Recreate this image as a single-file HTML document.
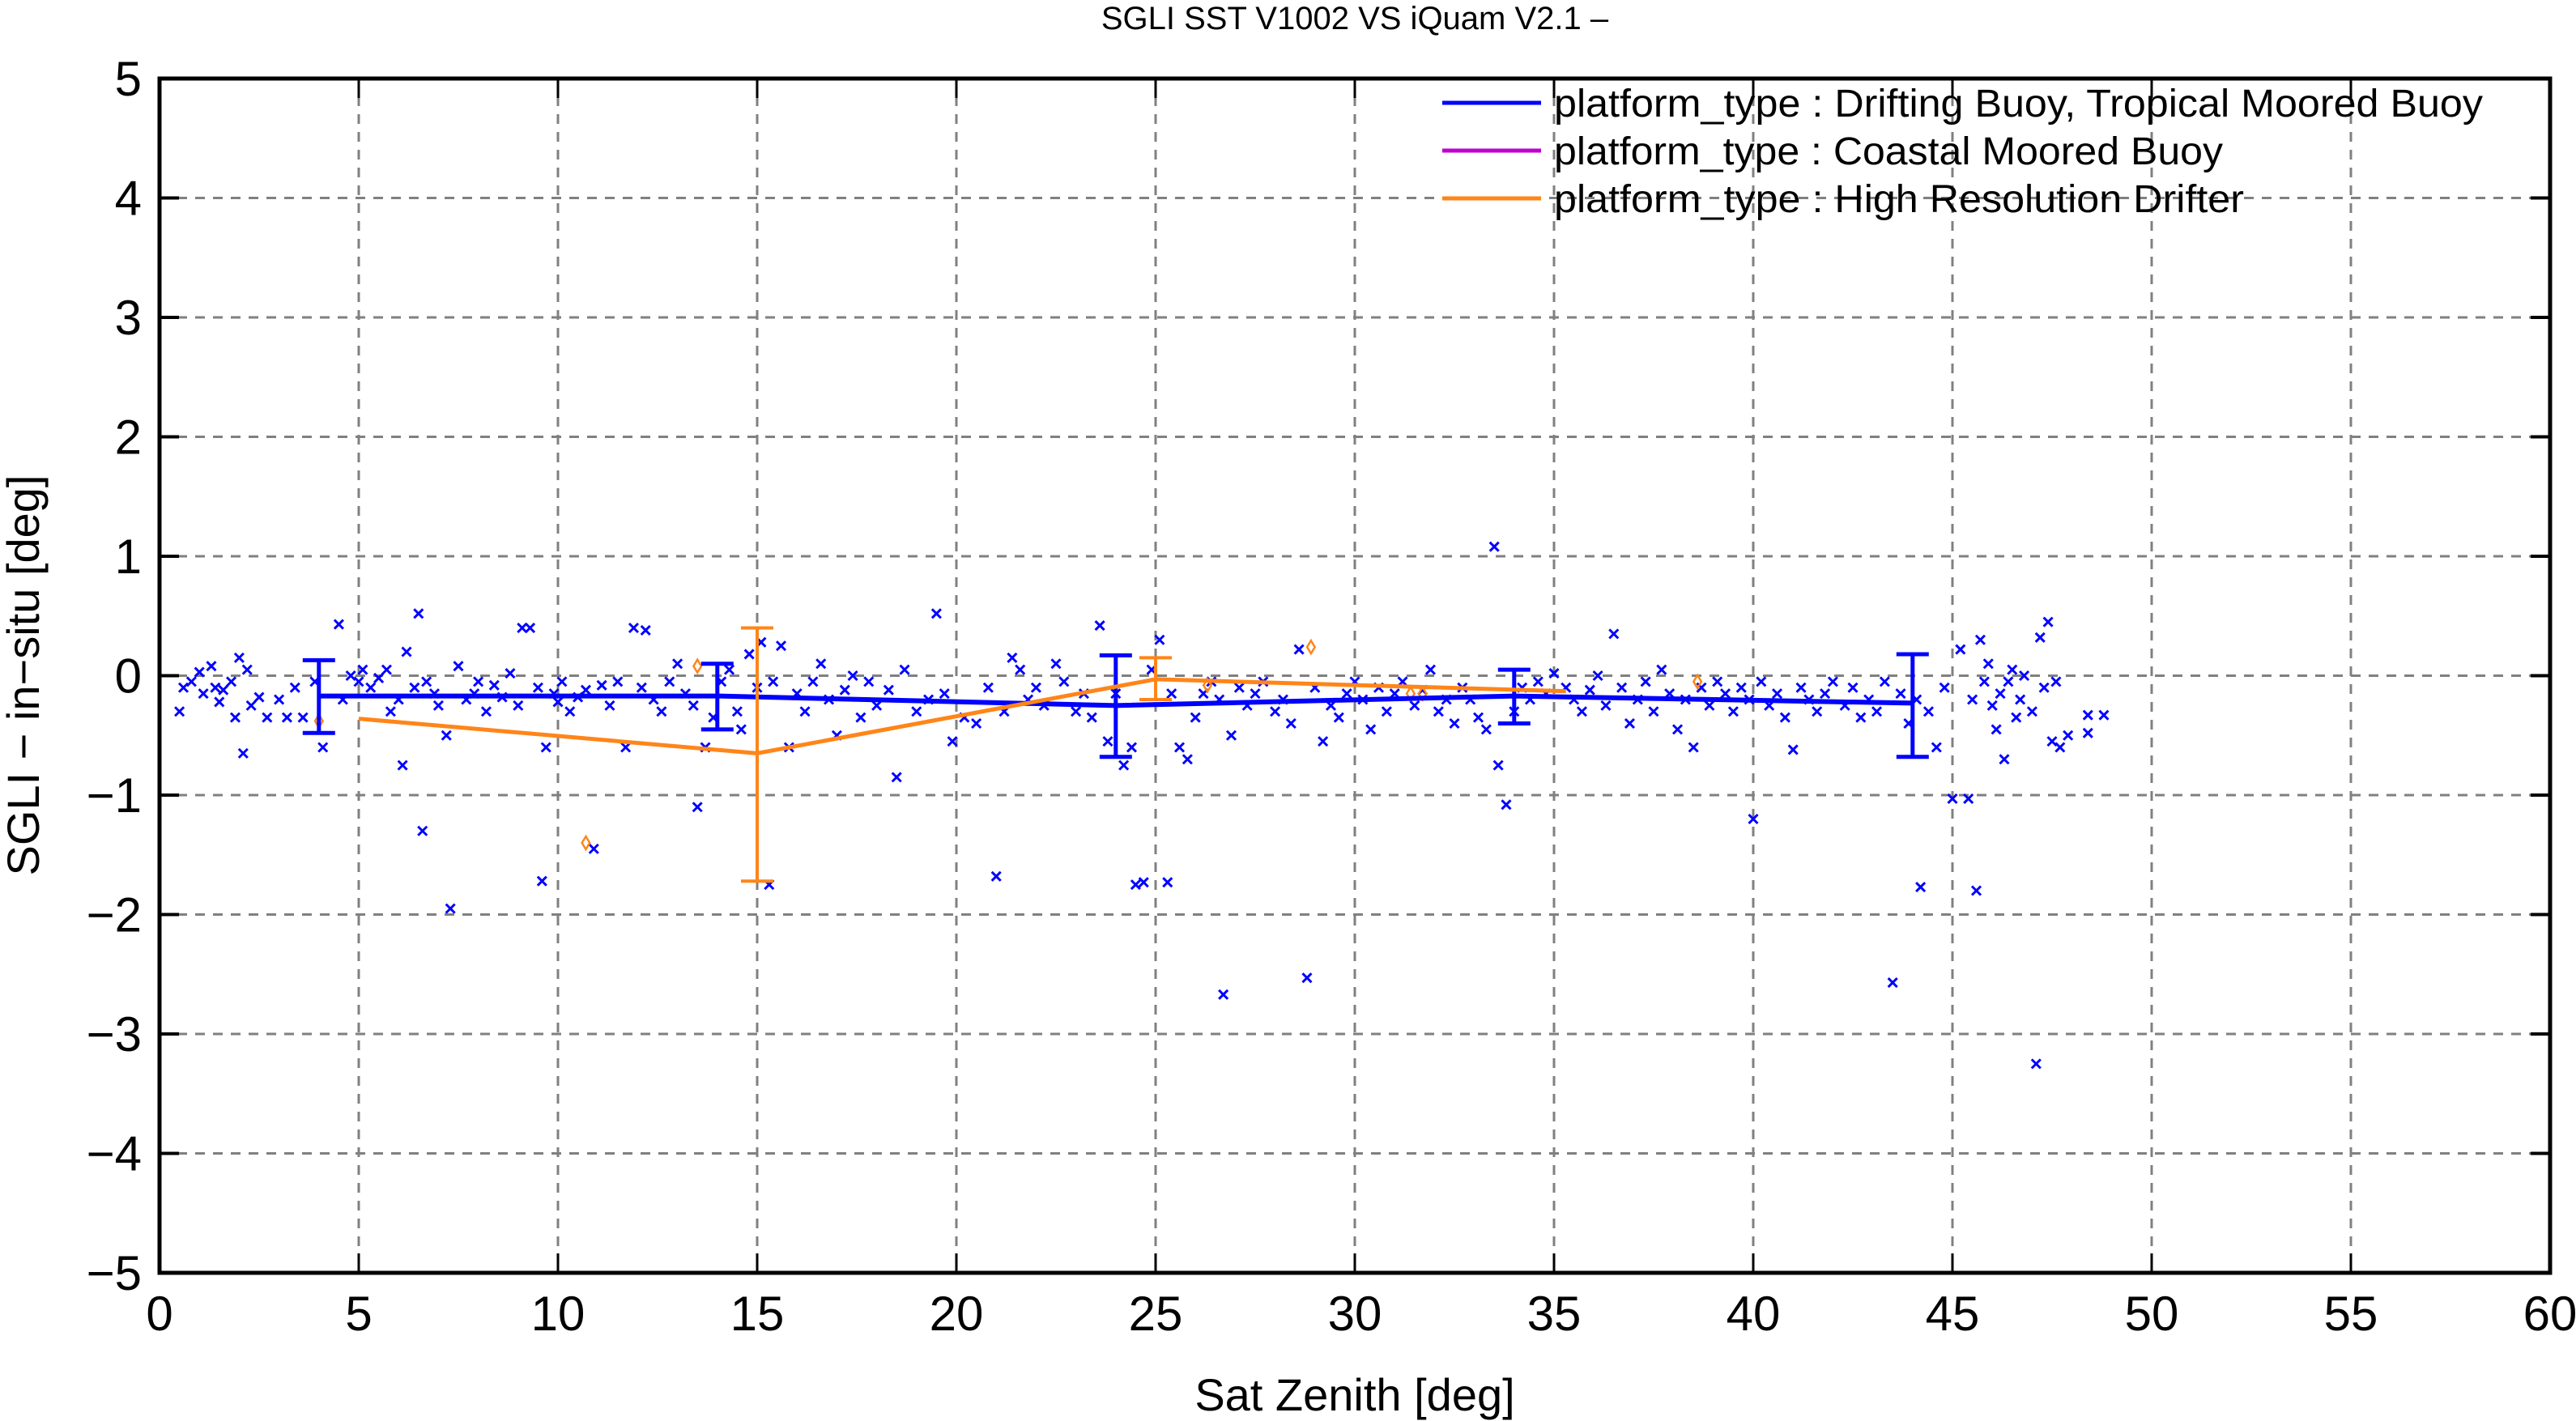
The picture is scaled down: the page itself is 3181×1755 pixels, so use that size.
<!DOCTYPE html>
<html><head><meta charset="utf-8"><style>
html,body{margin:0;padding:0;background:#fff;}
svg{display:block;font-family:"Liberation Sans",sans-serif;}
</style></head><body>
<svg id="chart" width="3181" height="1755" viewBox="0 0 3181 1755" xmlns="http://www.w3.org/2000/svg">
<rect x="0" y="0" width="3181" height="1755" fill="#fff"/>
<g id="grid"></g>
<g id="ticks"></g>
<g id="scatter"></g>
<g id="lines"></g>
<rect x="197" y="97" width="2952" height="1475" fill="none" stroke="#000" stroke-width="5"/>
<text x="1673" y="36" font-size="40" text-anchor="middle">SGLI SST V1002 VS iQuam V2.1  –</text>
<text x="1673" y="1742" font-size="56" text-anchor="middle">Sat Zenith [deg]</text>
<text x="0" y="0" font-size="56" text-anchor="middle" transform="translate(48,834) rotate(-90)">SGLI − in−situ [deg]</text>
<g>
<line x1="1781" y1="127" x2="1903" y2="127" stroke="#0000ff" stroke-width="5"/>
<text x="1919" y="144" font-size="48" textLength="1147" lengthAdjust="spacingAndGlyphs">platform_type : Drifting Buoy, Tropical Moored Buoy</text>
<line x1="1781" y1="186" x2="1903" y2="186" stroke="#c000d0" stroke-width="5"/>
<text x="1919" y="203" font-size="48" textLength="826" lengthAdjust="spacingAndGlyphs">platform_type : Coastal Moored Buoy</text>
<line x1="1781" y1="245" x2="1903" y2="245" stroke="#ff8519" stroke-width="5"/>
<text x="1919" y="262" font-size="48" textLength="852" lengthAdjust="spacingAndGlyphs">platform_type : High Resolution Drifter</text>
</g>
</svg>
<script>
const xTicks = [0,5,10,15,20,25,30,35,40,45,50,55,60];
const yTicks = [-5,-4,-3,-2,-1,0,1,2,3,4,5];
const blueMeanX = [4,14,24,34,44];
const blueMeanY = [-0.17,-0.17,-0.25,-0.17,-0.23];
const blueErrHi = [0.13,0.1,0.17,0.05,0.18];
const blueErrLo = [-0.48,-0.45,-0.68,-0.4,-0.68];
const orangeMeanX = [5,15,25,35.3];
const orangeMeanY = [-0.36,-0.65,-0.03,-0.13];
const orangeErrX = [15,25];
const orangeErrHi = [0.4,0.15];
const orangeErrLo = [-1.72,-0.2];
const orangeDiamonds = [[4,-0.38],[10.7,-1.4],[13.5,0.08],[28.9,0.24],[26.3,-0.08],[31.4,-0.15],[31.7,-0.15],[38.6,-0.05]];
const scatterPoints = [
[0.5,-0.3],[0.6,-0.1],[0.8,-0.05],[1.0,0.03],[1.1,-0.15],[1.3,0.08],[1.4,-0.1],[1.5,-0.22],[1.6,-0.12],[1.8,-0.05],[1.9,-0.35],[2.0,0.15],[2.1,-0.65],[2.2,0.05],[2.3,-0.25],[2.5,-0.18],[2.7,-0.35],[3.0,-0.2],[3.2,-0.35],[3.4,-0.1],[3.6,-0.35],[3.9,-0.05],[4.1,-0.6],[4.5,0.43],[4.6,-0.2],[4.8,0.0],[5.0,-0.05],[5.1,0.05],
[5.3,-0.1],[5.5,-0.02],[5.7,0.05],[5.8,-0.3],[6.0,-0.2],[6.1,-0.75],[6.2,0.2],[6.4,-0.1],[6.5,0.52],[6.6,-1.3],[6.7,-0.05],[6.9,-0.15],[7.0,-0.25],[7.2,-0.5],[7.3,-1.95],[7.5,0.08],[7.7,-0.2],[7.9,-0.15],[8.0,-0.05],[8.2,-0.3],[8.4,-0.08],[8.6,-0.18],[8.8,0.02],[9.0,-0.25],[9.1,0.4],[9.3,0.4],[9.5,-0.1],[9.6,-1.72],[9.7,-0.6],[9.9,-0.15],[10.0,-0.22],[10.1,-0.05],
[10.3,-0.3],[10.5,-0.18],[10.7,-0.12],[10.9,-1.45],[11.1,-0.08],[11.3,-0.25],[11.5,-0.05],[11.7,-0.6],[11.9,0.4],[12.1,-0.1],[12.2,0.38],[12.4,-0.2],[12.6,-0.3],[12.8,-0.05],[13.0,0.1],[13.2,-0.15],[13.4,-0.25],[13.5,-1.1],[13.7,-0.6],[13.9,-0.35],[14.1,-0.05],[14.3,0.05],[14.5,-0.3],[14.6,-0.45],[14.8,0.18],[15.0,-0.1],[15.1,0.28],
[15.3,-1.75],[15.4,-0.05],[15.6,0.25],[15.8,-0.6],[16.0,-0.15],[16.2,-0.3],[16.4,-0.05],[16.6,0.1],[16.8,-0.2],[17.0,-0.5],[17.2,-0.12],[17.4,0.0],[17.6,-0.35],[17.8,-0.05],[18.0,-0.25],[18.3,-0.12],[18.5,-0.85],[18.7,0.05],[19.0,-0.3],[19.3,-0.2],[19.5,0.52],[19.7,-0.15],[19.9,-0.55],
[20.2,-0.35],[20.5,-0.4],[20.8,-0.1],[21.0,-1.68],[21.2,-0.3],[21.4,0.15],[21.6,0.05],[21.8,-0.2],[22.0,-0.1],[22.2,-0.25],[22.5,0.1],[22.7,-0.05],[23.0,-0.3],[23.2,-0.15],[23.4,-0.35],[23.6,0.42],[23.8,-0.55],[24.0,-0.15],[24.2,-0.75],[24.4,-0.6],[24.5,-1.75],[24.7,-1.73],[24.9,0.05],[25.1,0.3],[25.3,-1.73],[25.4,-0.15],
[25.6,-0.6],[25.8,-0.7],[26.0,-0.35],[26.2,-0.15],[26.4,-0.05],[26.6,-0.2],[26.7,-2.67],[26.9,-0.5],[27.1,-0.1],[27.3,-0.25],[27.5,-0.15],[27.7,-0.05],[28.0,-0.3],[28.2,-0.2],[28.4,-0.4],[28.6,0.22],[28.8,-2.53],[29.0,-0.1],[29.2,-0.55],[29.4,-0.25],[29.6,-0.35],[29.8,-0.15],[30.0,-0.05],
[30.2,-0.2],[30.4,-0.45],[30.6,-0.1],[30.8,-0.3],[31.0,-0.15],[31.2,-0.05],[31.5,-0.25],[31.7,-0.12],[31.9,0.05],[32.1,-0.3],[32.3,-0.2],[32.5,-0.4],[32.7,-0.1],[32.9,-0.2],[33.1,-0.35],[33.3,-0.45],[33.5,1.08],[33.6,-0.75],[33.8,-1.08],[34.0,-0.3],[34.2,-0.1],[34.4,-0.2],[34.6,-0.05],[34.8,-0.15],[35.0,0.02],
[35.3,-0.1],[35.5,-0.2],[35.7,-0.3],[35.9,-0.12],[36.1,0.0],[36.3,-0.25],[36.5,0.35],[36.7,-0.1],[36.9,-0.4],[37.1,-0.2],[37.3,-0.05],[37.5,-0.3],[37.7,0.05],[37.9,-0.15],[38.1,-0.45],[38.3,-0.2],[38.5,-0.6],[38.7,-0.1],[38.9,-0.25],[39.1,-0.05],[39.3,-0.15],[39.5,-0.3],[39.7,-0.1],[39.9,-0.2],[40.0,-1.2],
[40.2,-0.05],[40.4,-0.25],[40.6,-0.15],[40.8,-0.35],[41.0,-0.62],[41.2,-0.1],[41.4,-0.2],[41.6,-0.3],[41.8,-0.15],[42.0,-0.05],[42.3,-0.25],[42.5,-0.1],[42.7,-0.35],[42.9,-0.2],[43.1,-0.3],[43.3,-0.05],[43.5,-2.57],[43.7,-0.15],[43.9,-0.4],[44.1,-0.2],[44.2,-1.77],[44.4,-0.3],[44.6,-0.6],[44.8,-0.1],[45.0,-1.03],[45.2,0.22],[45.4,-1.03],
[45.5,-0.2],[45.6,-1.8],[45.7,0.3],[45.8,-0.05],[45.9,0.1],[46.0,-0.25],[46.1,-0.45],[46.2,-0.15],[46.3,-0.7],[46.4,-0.05],[46.5,0.05],[46.6,-0.35],[46.7,-0.2],[46.8,0.0],[47.0,-0.3],[47.1,-3.25],[47.2,0.32],[47.3,-0.1],[47.4,0.45],[47.5,-0.55],[47.6,-0.05],[47.7,-0.6],[47.9,-0.5],[48.4,-0.33],[48.4,-0.48],[48.8,-0.33]
];

const NS = "http://www.w3.org/2000/svg";
const L = 197, R = 3149, T = 97, B = 1572;
const xMin = 0, xMax = 60, yMin = -5, yMax = 5;
function sx(v){ return L + (v - xMin) / (xMax - xMin) * (R - L); }
function sy(v){ return B - (v - yMin) / (yMax - yMin) * (B - T); }
function mk(tag, attrs, parent){
  const e = document.createElementNS(NS, tag);
  for (const k in attrs) e.setAttribute(k, attrs[k]);
  parent.appendChild(e);
  return e;
}
const grid = document.getElementById('grid');
const ticks = document.getElementById('ticks');
xTicks.forEach(function(v){
  const x = sx(v);
  if (v > xMin && v < xMax) {
    const g = mk('line', {x1:x, y1:T, x2:x, y2:B, stroke:'#808080', 'stroke-width':3, 'stroke-dasharray':'12 10'}, grid);
    
    
    const t1 = mk('line', {x1:x, y1:B, x2:x, y2:B-24, stroke:'#000', 'stroke-width':3}, ticks);
    
    
    const t2 = mk('line', {x1:x, y1:T, x2:x, y2:T+24, stroke:'#000', 'stroke-width':3}, ticks);
    
    
  }
  const lab = mk('text', {x:x, y:1643, 'font-size':60, 'text-anchor':'middle'}, ticks);
  
  
  lab.textContent = String(v);
});
yTicks.forEach(function(v){
  const y = sy(v);
  if (v > yMin && v < yMax) {
    const g = mk('line', {x1:L, y1:y, x2:R, y2:y, stroke:'#808080', 'stroke-width':3, 'stroke-dasharray':'12 10'}, grid);
    
    
    const t1 = mk('line', {x1:L, y1:y, x2:L+24, y2:y, stroke:'#000', 'stroke-width':4}, ticks);
    
    
    const t2 = mk('line', {x1:R, y1:y, x2:R-24, y2:y, stroke:'#000', 'stroke-width':4}, ticks);
    
    
  }
  const lab = mk('text', {x:175, y:y+21, 'font-size':60, 'text-anchor':'end'}, ticks);
  
  
  lab.textContent = v < 0 ? '−' + Math.abs(v) : String(v);
});
const sc = document.getElementById('scatter');
scatterPoints.forEach(function(p){
  const x = sx(p[0]), y = sy(p[1]), s = 5.5;
  const m = mk('path', {d:'M'+(x-s)+' '+(y-s)+'L'+(x+s)+' '+(y+s)+'M'+(x-s)+' '+(y+s)+'L'+(x+s)+' '+(y-s), stroke:'#0000ff', 'stroke-width':3, fill:'none'}, sc);
  
  
});
orangeDiamonds.forEach(function(p){
  const x = sx(p[0]), y = sy(p[1]), s = 8;
  const m = mk('path', {d:'M'+x+' '+(y-s)+'L'+(x+s*0.6)+' '+y+'L'+x+' '+(y+s)+'L'+(x-s*0.6)+' '+y+'Z', stroke:'#ff8519', 'stroke-width':2.5, fill:'none'}, sc);
  
  
});
const lines = document.getElementById('lines');
const bl = mk('polyline', {points: blueMeanX.map(function(x,i){return sx(x)+','+sy(blueMeanY[i]);}).join(' '), stroke:'#0000ff', 'stroke-width':6, fill:'none'}, lines);


blueMeanX.forEach(function(xv,i){
  const x = sx(xv), y1 = sy(blueErrHi[i]), y2 = sy(blueErrLo[i]);
  const e = mk('path', {d:'M'+x+' '+y1+'L'+x+' '+y2+'M'+(x-20)+' '+y1+'L'+(x+20)+' '+y1+'M'+(x-20)+' '+y2+'L'+(x+20)+' '+y2, stroke:'#0000ff', 'stroke-width':5, fill:'none'}, lines);
  
  
});
const ol = mk('polyline', {points: orangeMeanX.map(function(x,i){return sx(x)+','+sy(orangeMeanY[i]);}).join(' '), stroke:'#ff8519', 'stroke-width':5, fill:'none'}, lines);


orangeErrX.forEach(function(xv,i){
  const x = sx(xv), y1 = sy(orangeErrHi[i]), y2 = sy(orangeErrLo[i]);
  const e = mk('path', {d:'M'+x+' '+y1+'L'+x+' '+y2+'M'+(x-20)+' '+y1+'L'+(x+20)+' '+y1+'M'+(x-20)+' '+y2+'L'+(x+20)+' '+y2, stroke:'#ff8519', 'stroke-width':4, fill:'none'}, lines);
  
  
});
</script>
</body></html>
